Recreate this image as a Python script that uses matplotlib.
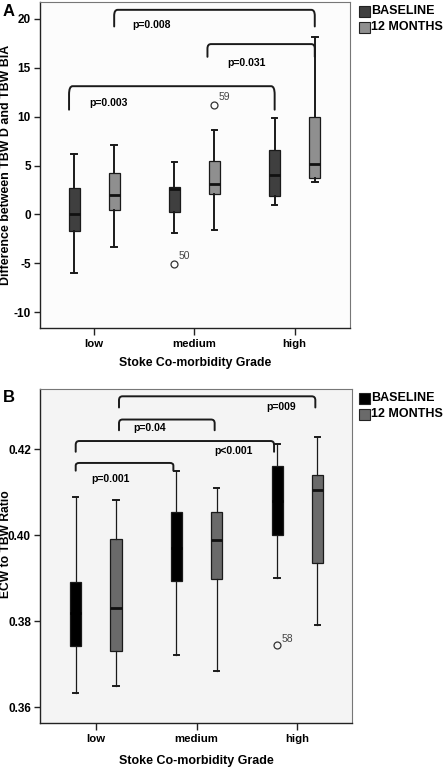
import matplotlib

matplotlib.use("Agg")
import matplotlib.pyplot as plt
from matplotlib.path import Path
from matplotlib.patches import PathPatch, Rectangle

plt.rcParams.update({
    "font.family": "Liberation Sans",
    "font.size": 8,
})

# ---- data -----------------------------------------------------------------
grades = ["low", "medium", "high"]
groups = ["BASELINE", "12 MONTHS"]

# panel A: difference between TBW D and TBW BIA
# (whislo, q1, med, q3, whishi) per grade, per group
a_baseline = [(-6.0, -1.7, 0.0, 2.7, 6.2),
              (-1.9, 0.2, 2.6, 2.8, 5.4),
              (1.0, 1.9, 4.0, 6.6, 9.9)]
a_12m = [(-3.3, 0.5, 2.0, 4.2, 7.1),
         (-1.6, 2.1, 3.1, 5.5, 8.6),
         (3.3, 3.7, 5.2, 10.0, 18.1)]
a_fliers_base = [[], [-5.1], []]
a_fliers_12m = [[], [11.2], []]
a_flier_ids_base = [[], ["50"], []]
a_flier_ids_12m = [[], ["59"], []]
# brackets: (x1, x2, top, leg_bottom_left, leg_bottom_right, label, tx, ty)
a_brackets = [(0.2, 2.2, 20.9, 19.2, 19.2, "p=0.008", 0.38, 19.3),
              (1.13, 2.2, 17.4, 16.1, 16.1, "p=0.031", 1.33, 15.5),
              (-0.25, 1.8, 13.1, 10.7, 10.7, "p=0.003", -0.05, 11.4)]

# panel B: ECW to TBW ratio
b_baseline = [(0.3634, 0.3742, 0.3820, 0.3891, 0.4088),
              (0.3721, 0.3893, 0.3970, 0.4054, 0.4150),
              (0.3900, 0.4000, 0.4080, 0.4160, 0.4212)]
b_12m = [(0.3650, 0.3731, 0.3830, 0.3990, 0.4081),
         (0.3684, 0.3899, 0.3988, 0.4054, 0.4109),
         (0.3791, 0.3936, 0.4105, 0.4141, 0.4229)]
b_fliers_base = [[], [], [0.3744]]
b_fliers_12m = [[], [], []]
b_flier_ids_base = [[], [], ["58"]]
b_flier_ids_12m = [[], [], []]
b_brackets = [(0.23, 2.18, 0.4323, 0.4297, 0.4297, "p=009", 1.69, 0.4298),
              (0.23, 1.18, 0.4269, 0.4244, 0.4244, "p=0.04", 0.37, 0.4250),
              (-0.2, 1.77, 0.4219, 0.4194, 0.4194, "p<0.001", 1.18, 0.4196),
              (-0.2, 0.77, 0.4168, 0.4150, 0.4150, "p=0.001", -0.05, 0.4130)]


def stats_list(vals, fliers):
    out = []
    for (lo, q1, med, q3, hi), fl in zip(vals, fliers):
        out.append(dict(whislo=lo, q1=q1, med=med, q3=q3, whishi=hi, fliers=fl))
    return out


def bracket(ax, x1, x2, top, yl, yr, lw=1.4):
    dx = 0.035
    dy = (top - min(yl, yr)) * 0.35
    verts = [(x1, yl), (x1, top - dy), (x1, top), (x1 + dx, top),
             (x2 - dx, top), (x2, top), (x2, top - dy), (x2, yr)]
    codes = [Path.MOVETO, Path.LINETO, Path.CURVE3, Path.CURVE3,
             Path.LINETO, Path.CURVE3, Path.CURVE3, Path.LINETO]
    ax.add_patch(PathPatch(Path(verts, codes), fill=False, lw=lw,
                           color="#1a1a1a", capstyle="round", clip_on=False))


def panel(ax, base, m12, fl_b, fl_m, id_b, id_m, colors, whisk_lw, med_colors,
          brackets, off_frac):
    pos = range(len(grades))
    for vals, fl, ids, off, col, mcol in [(base, fl_b, id_b, -0.2, colors[0], med_colors[0]),
                                          (m12, fl_m, id_m, 0.2, colors[1], med_colors[1])]:
        ax.bxp(stats_list(vals, fl), positions=[p + off for p in pos], widths=0.11,
               patch_artist=True, showfliers=True,
               boxprops=dict(facecolor=col, edgecolor="#1a1a1a", lw=0.9),
               medianprops=dict(color=mcol, lw=2.0),
               whiskerprops=dict(color="#1a1a1a", lw=whisk_lw),
               capprops=dict(color="#1a1a1a", lw=1.4),
               flierprops=dict(marker="o", markersize=5, markerfacecolor="none",
                               markeredgecolor="#333333", markeredgewidth=0.9))
        for p, fvals, fids in zip(pos, fl, ids):
            for v, t in zip(fvals, fids):
                ax.text(p + off + 0.04, v + off_frac, t, fontsize=7.5, color="#444444",
                        ha="left", va="bottom")
    for x1, x2, top, yl, yr, lab, tx, ty in brackets:
        bracket(ax, x1, x2, top, yl, yr)
        ax.text(tx, ty, lab, fontsize=7.5, fontweight="bold", ha="left", va="center")
    ax.set_xticks(list(pos))
    ax.set_xticklabels(grades, fontweight="bold", fontsize=8.2)
    for sp in ["top", "right"]:
        ax.spines[sp].set_color("#777777")
    for sp in ["left", "bottom"]:
        ax.spines[sp].set_color("#222222")
        ax.spines[sp].set_linewidth(1.0)
    ax.tick_params(axis="y", length=4, width=1.0, color="#222222", pad=2.5)
    ax.tick_params(axis="x", length=5, width=1.0, color="#222222", pad=3)


def legend(fig, y0, colors):
    for i, (g, c) in enumerate(zip(groups, colors)):
        y = y0 - i * 0.021
        fig.patches.append(Rectangle((0.808, y - 0.0075), 0.026, 0.0145,
                                     transform=fig.transFigure, facecolor=c,
                                     edgecolor="#222222", lw=0.8))
        fig.text(0.836, y, g, fontsize=9, fontweight="bold", va="center", ha="left")


fig = plt.figure(figsize=(4.44, 7.7), dpi=100)

axA = fig.add_axes([0.090, 0.574, 0.698, 0.4234])
axA.set_facecolor("#fcfcfc")
panel(axA, a_baseline, a_12m, a_fliers_base, a_fliers_12m, a_flier_ids_base,
      a_flier_ids_12m, ["#3f3f3f", "#8f8f8f"], 1.4, ["#111111", "#111111"],
      a_brackets, 0.3)
axA.set_xlim(-0.54, 2.55)
axA.set_ylim(-11.6, 21.7)
axA.set_yticks([-10, -5, 0, 5, 10, 15, 20])
axA.set_yticklabels([str(v) for v in [-10, -5, 0, 5, 10, 15, 20]],
                    fontweight="bold", fontsize=8.5)
axA.set_ylabel("Difference between TBW D and TBW BIA", fontsize=8.9,
               fontweight="bold")
axA.yaxis.set_label_coords(-0.09, 0.5)
axA.set_xlabel("Stoke Co-morbidity Grade", fontsize=8.8, fontweight="bold",
               labelpad=6)

axB = fig.add_axes([0.090, 0.061, 0.703, 0.4338])
axB.set_facecolor("#f4f4f4")
panel(axB, b_baseline, b_12m, b_fliers_base, b_fliers_12m, b_flier_ids_base,
      b_flier_ids_12m, ["#000000", "#6a6a6a"], 0.9, ["#000000", "#111111"],
      b_brackets, 0.0004)
axB.set_xlim(-0.555, 2.545)
axB.set_ylim(0.3563, 0.434)
axB.set_yticks([0.36, 0.38, 0.40, 0.42])
axB.set_yticklabels(["0.36", "0.38", "0.40", "0.42"], fontweight="bold", fontsize=8.5)
axB.set_ylabel("ECW to TBW Ratio", fontsize=8.7, fontweight="bold")
axB.yaxis.set_label_coords(-0.089, 0.536)
axB.set_xlabel("Stoke Co-morbidity Grade", fontsize=9, fontweight="bold",
               labelpad=8)

legend(fig, 1 - 11 / 770, ["#3f3f3f", "#8f8f8f"])
legend(fig, 1 - 398 / 770, ["#000000", "#6a6a6a"])

fig.text(0.006, 1 - 11 / 770, "A", fontsize=12, fontweight="bold", va="center")
fig.text(0.006, 1 - 397 / 770, "B", fontsize=12, fontweight="bold", va="center")

fig.savefig("out.png", dpi=100)
